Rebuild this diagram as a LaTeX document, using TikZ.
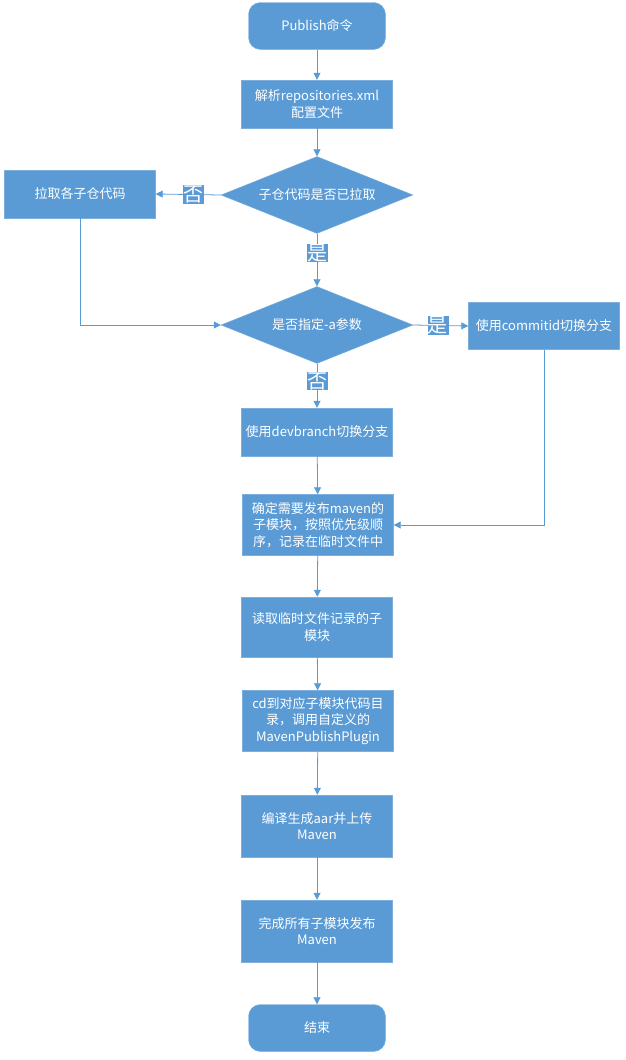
\documentclass[tikz,border=0pt]{standalone}
\usepackage{fontspec}
\setmainfont{Noto Sans CJK SC}
\usepackage{xcolor}
\usepackage{tikz}
\usetikzlibrary{arrows.meta,shapes.geometric}

\definecolor{flowblue}{HTML}{5B9BD5}

\begin{document}
\begin{tikzpicture}[x=1pt,y=-1pt,
    stepbox/.style={draw=flowblue!80!white, fill=flowblue, text=white, align=center,
        minimum width=151pt, minimum height=48pt, font=\fontsize{13}{16.5}\selectfont},
    termbox/.style={stepbox, rounded corners=12pt, minimum width=137pt, minimum height=47pt},
    decide/.style={diamond, aspect=2.5, draw=flowblue!80!white, fill=flowblue, text=white, inner sep=0pt,
        minimum width=192pt, minimum height=77pt, font=\fontsize{13}{16.5}\selectfont},
    lbl/.style={fill=flowblue, text=white, inner sep=0.5pt, font=\fontsize{20}{22}\selectfont},
    flow/.style={draw=flowblue, line width=0.8pt, -{Triangle[length=7pt,width=7pt]}}]
    \useasboundingbox (0,0) rectangle (625,1060);

    % Start and config
    \node[termbox] (start) at (317,26) {Publish命令};
    \node[stepbox] (parse) at (317,104) {解析repositories.xml\\配置文件};

    % Sub repositories pulled?
    \node[decide] (pulled) at (317,195) {子仓代码是否已拉取};
    \node[stepbox] (pull) at (80,194) {拉取各子仓代码};

    % -a option?
    \node[decide] (argA) at (317,325) {是否指定-a参数};
    \node[stepbox, minimum height=47pt] (commit) at (544,326) {使用commitid切换分支};
    \node[stepbox] (dev) at (317,432) {使用devbranch切换分支};

    % Publishing steps
    \node[stepbox, minimum height=61pt] (modules) at (318,525) {确定需要发布maven的\\子模块，按照优先级顺\\序，记录在临时文件中};
    \node[stepbox, minimum height=60pt] (readtmp) at (317,627) {读取临时文件记录的子\\模块};
    \node[stepbox, minimum height=61pt] (plugin) at (318,721) {cd到对应子模块代码目\\录，调用自定义的\\MavenPublishPlugin};
    \node[stepbox, minimum height=62pt] (upload) at (317,826) {编译生成aar并上传\\Maven};
    \node[stepbox, minimum height=62pt] (finish) at (317,931) {完成所有子模块发布\\Maven};
    \node[termbox] (end) at (317,1028) {结束};

    % Connectors
    \draw[flow] (start) -- (parse);
    \draw[flow] (parse) -- (pulled);
    \draw[flow] (pulled.west) -- node[lbl, pos=0.42] {否} (pull.east);
    \draw[flow] (pulled.south) -- node[lbl, pos=0.37] {是} (argA.north);
    \draw[flow] (pull.south) |- (argA.west);
    \draw[flow] (argA.east) -- node[lbl, pos=0.45] {是} (commit.west);
    \draw[flow] (argA.south) -- node[lbl, pos=0.4] {否} (dev.north);
    \draw[flow] (dev) -- (modules);
    \draw[flow] (commit.south) |- (modules.east);
    \draw[flow] (modules) -- (readtmp);
    \draw[flow] (readtmp) -- (plugin);
    \draw[flow] (plugin) -- (upload);
    \draw[flow] (upload) -- (finish);
    \draw[flow] (finish) -- (end);
\end{tikzpicture}
\end{document}
